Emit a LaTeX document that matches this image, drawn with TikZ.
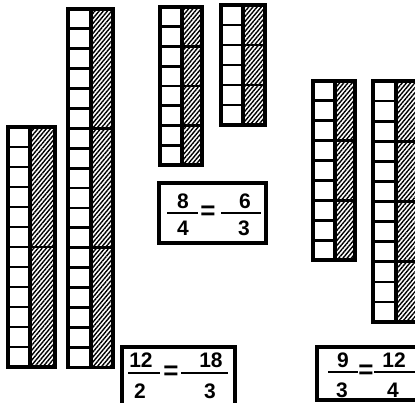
\documentclass[tikz,border=0pt]{standalone}
\usepackage{fontspec}
\setmainfont{Liberation Sans}
\usetikzlibrary{patterns.meta}
\tikzset{
  rodline/.style={line width=3.4pt},
  cellline/.style={line width=2.8pt},
  hatch/.style={pattern={Lines[angle=50,distance=3.2pt,line width=1.4pt]}},
  fracbox/.style={draw, line width=3.2pt, inner sep=0pt},
  digit/.style={font=\fontsize{21}{21}\selectfont\bfseries, inner sep=0pt},
  eqsign/.style={font=\fontsize{26}{26}\selectfont\bfseries, inner sep=0pt},
  fracbar/.style={line width=2.8pt},
}
\newcommand\rodpair[7]{%
  \pgfmathsetmacro\rodbot{#4+#6*#5}%
  \pgfmathtruncatemacro\rodlast{#6-1}%
  \pgfmathtruncatemacro\rodgroups{#6/#7-1}%
  \fill[hatch] (#2,#4) rectangle (#3,\rodbot);
  \foreach \i in {1,...,\rodlast}{\draw[cellline] (#1,{#4+\i*#5}) -- (#2,{#4+\i*#5});}
  \foreach \k in {1,...,\rodgroups}{\draw[cellline] (#2,{#4+\k*#7*#5}) -- (#3,{#4+\k*#7*#5});}
  \draw[rodline] (#2,#4) -- (#2,\rodbot);
  \draw[rodline] (#1,#4) rectangle (#3,\rodbot);
}
\begin{document}
\begin{tikzpicture}[x=1pt,y=-1pt]
  \fill[white] (0,0) rectangle (415,403);
  \clip (0,0) rectangle (415,403);
  % rods
  \rodpair{8}{30}{55}{127}{20}{12}{6}
  \rodpair{68}{91}{113}{9}{19.9}{18}{6}
  \rodpair{160}{182}{202}{7}{19.75}{8}{2}
  \rodpair{221}{243}{265}{5}{20}{6}{2}
  \rodpair{313}{335}{355}{81}{19.9}{9}{3}
  \rodpair{373}{396}{419}{81}{20.1}{12}{3}
  % box 1: 8/4 = 6/3
  \node[fracbox, minimum width=107pt, minimum height=60pt] (box1) at (212.5,213) {};
  \node[digit] (b1n1) at (183,201) {8};
  \node[digit] (b1d1) at (183,228) {4};
  \draw[fracbar] (167,213) -- (198,213);
  \node[eqsign] (b1eq) at (208,213) {=};
  \node[digit] (b1n2) at (245,201) {6};
  \node[digit] (b1d2) at (244,228) {3};
  \draw[fracbar] (221,213) -- (261,213);
  % box 2: 12/2 = 18/3
  \node[fracbox, minimum width=113pt, minimum height=66pt] (box2) at (178.5,380) {};
  \node[digit] (b2n1) at (141,360) {12};
  \node[digit] (b2d1) at (140,391) {2};
  \draw[fracbar] (128,373) -- (160,373);
  \node[eqsign] (b2eq) at (171,373) {=};
  \node[digit] (b2n2) at (211,360) {18};
  \node[digit] (b2d2) at (210,391) {3};
  \draw[fracbar] (181,373) -- (228,373);
  % box 3: 9/3 = 12/4
  \node[fracbox, minimum width=103pt, minimum height=53pt] (box3) at (368.5,373.5) {};
  \node[digit] (b3n1) at (343,360) {9};
  \node[digit] (b3d1) at (342,390) {3};
  \draw[fracbar] (328,372) -- (358,372);
  \node[eqsign] (b3eq) at (366,372) {=};
  \node[digit] (b3n2) at (394,360) {12};
  \node[digit] (b3d2) at (393,390) {4};
  \draw[fracbar] (374,372) -- (416,372);
\end{tikzpicture}
\end{document}
